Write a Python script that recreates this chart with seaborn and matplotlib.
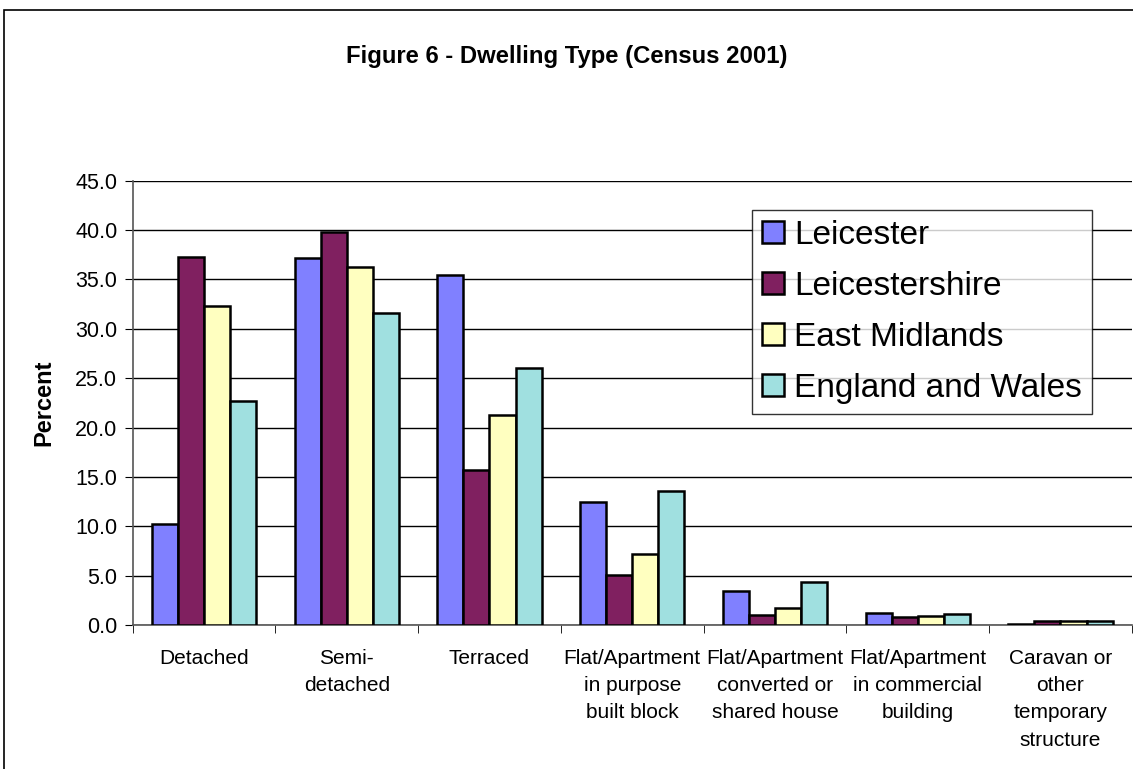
import pandas as pd
import seaborn as sns
import matplotlib.pyplot as plt
from matplotlib.patches import Rectangle
from matplotlib.ticker import FormatStrFormatter, FixedLocator

# values
categories = ["Detached", "Semi-\ndetached", "Terraced",
              "Flat/Apartment\nin purpose\nbuilt block",
              "Flat/Apartment\nconverted or\nshared house",
              "Flat/Apartment\nin commercial\nbuilding",
              "Caravan or\nother\ntemporary\nstructure"]
areas = ["Leicester", "Leicestershire", "East Midlands", "England and Wales"]
leicester = [10.2, 37.2, 35.5, 12.5, 3.5, 1.2, 0.1]
leicestershire = [37.3, 39.8, 15.7, 5.1, 1.0, 0.8, 0.4]
east_midlands = [32.3, 36.3, 21.3, 7.2, 1.7, 0.9, 0.4]
england_wales = [22.7, 31.6, 26.0, 13.6, 4.4, 1.1, 0.4]
colors = ["#8080FF", "#802060", "#FFFFC0", "#A0E0E0"]

rows = []
for area, vals in zip(areas, [leicester, leicestershire, east_midlands, england_wales]):
    for cat, v in zip(categories, vals):
        rows.append({"Type": cat, "Area": area, "Percent": v})
df = pd.DataFrame(rows)

sns.set_style("white")
plt.rcParams['font.family'] = ['Liberation Sans', 'DejaVu Sans']
plt.rcParams['text.color'] = 'black'
plt.rcParams['axes.labelcolor'] = 'black'
plt.rcParams['xtick.color'] = 'black'
plt.rcParams['ytick.color'] = 'black'

fig = plt.figure(figsize=(11.33, 7.69), dpi=100)
ax = fig.add_axes([0.117, 0.187, 0.882, 0.578])

sns.barplot(data=df, x="Type", y="Percent", hue="Area", palette=colors, saturation=1,
            width=0.73, edgecolor="black", linewidth=1.8, ax=ax, zorder=3)

ax.set_ylim(0, 45)
ax.set_xlim(-0.5, len(categories) - 0.5)
ax.set_yticks([i * 5 for i in range(10)])
ax.yaxis.set_major_formatter(FormatStrFormatter("%.1f"))
ax.yaxis.grid(True, color="black", linewidth=1)
ax.set_axisbelow(True)
for s in ["top", "right"]:
    ax.spines[s].set_visible(False)
for s in ["left", "bottom"]:
    ax.spines[s].set_color("#555555")
    ax.spines[s].set_linewidth(1.2)

ax.tick_params(axis="y", which="major", direction="out", length=6, labelsize=15.5,
               left=True, pad=5)
ax.tick_params(axis="x", which="major", length=0, labelsize=15, pad=17)
for lbl in ax.get_xticklabels():
    lbl.set_linespacing(1.55)
ax.xaxis.set_minor_locator(FixedLocator([i - 0.5 for i in range(len(categories) + 1)]))
ax.tick_params(axis="x", which="minor", direction="out", length=6, bottom=True)
ax.set_xlabel("")
ax.set_ylabel("Percent", fontsize=17, fontweight="bold", labelpad=14)

fig.suptitle("Figure 6 - Dwelling Type (Census 2001)", y=0.941, fontsize=17.2, fontweight="bold")

leg = ax.legend(loc="upper left", bbox_to_anchor=(0.62, 0.935), fontsize=24,
                frameon=True, fancybox=False, edgecolor="black",
                handlelength=0.65, handleheight=0.65, handletextpad=0.3,
                labelspacing=0.6, borderpad=0.3, borderaxespad=0)
leg.get_frame().set_linewidth(1)

fig.patches.append(Rectangle((4 / 1133, -0.1), 1.1, 1.1 - 10 / 769, transform=fig.transFigure,
                             fill=False, edgecolor="black", linewidth=1.2))

plt.savefig("out.png", dpi=100)
